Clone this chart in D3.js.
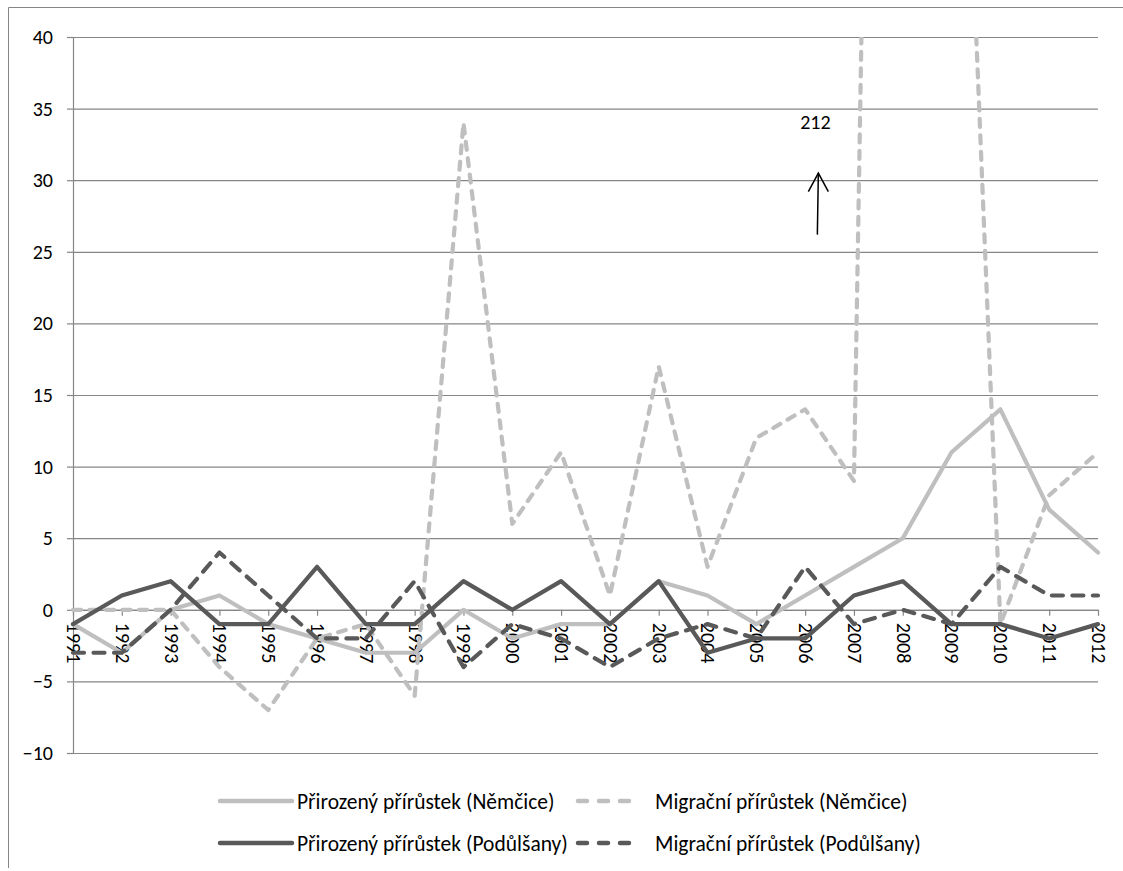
<!DOCTYPE html>
<html>
<head>
<meta charset="utf-8">
<script src="https://cdn.jsdelivr.net/npm/d3@7"></script>
<style>
  html, body { margin: 0; padding: 0; background: #fff; }
  svg { display: block; }
  text { font-family: "Carlito", "Lato", sans-serif; fill: #000; }
</style>
</head>
<body>
<svg id="chart" width="1123" height="871"></svg>
<script>
// ---- data ----
const years = ["1991","1992","1993","1994","1995","1996","1997","1998","1999","2000","2001",
               "2002","2003","2004","2005","2006","2007","2008","2009","2010","2011","2012"];
const prirozenyNemcice  = [-1,-3,0,1,-1,-2,-3,-3,0,-2,-1,-1,2,1,-1,1,3,5,11,14,7,4];
const migracniNemcice   = [0,0,0,-4,-7,-2,-1,-6,34,6,11,1,17,3,12,14,9,212,82,-1,8,11];
const prirozenyPodulsany = [-1,1,2,-1,-1,3,-1,-1,2,0,2,-1,2,-3,-2,-2,1,2,-1,-1,-2,-1];
const migracniPodulsany  = [-3,-3,0,4,1,-2,-2,2,-4,-1,-2,-4,-2,-1,-2,3,-1,0,-1,3,1,1];
const yTicks = [-10,-5,0,5,10,15,20,25,30,35,40];
const seriesNames = ["Přirozený přírůstek (Němčice)","Migrační přírůstek (Němčice)",
                     "Přirozený přírůstek (Podůlšany)","Migrační přírůstek (Podůlšany)"];
const annotationText = "212";

// ---- layout / style ----
const LIGHT = "#bfbfbf", DARK = "#595959", GRID = "#868686";
const svg = d3.select("#chart");
const mLeft = 73, mRight = 1098, mTop = 37, mBottom = 753;

const x = d3.scalePoint().domain(years).range([mLeft, mRight]);
const y = d3.scaleLinear().domain([-10, 40]).range([mBottom, mTop]);

// outer frame (cropped on right & bottom)
svg.append("line").attr("x1", 8.5).attr("x2", 8.5).attr("y1", 7.5).attr("y2", 868)
  .attr("stroke", GRID).attr("stroke-width", 1);
svg.append("line").attr("x1", 8.5).attr("x2", 1123).attr("y1", 7.5).attr("y2", 7.5)
  .attr("stroke", GRID).attr("stroke-width", 1);

// y axis with gridlines
const yAxis = d3.axisLeft(y).tickValues(yTicks).tickSize(6).tickPadding(13).tickFormat(d3.format("d"));
const gy = svg.append("g").attr("transform", `translate(${mLeft},0)`).call(yAxis);
gy.select(".domain").attr("stroke", GRID).attr("stroke-width", 1.2).attr("d", `M0.5,${y(-10)}V${y(40)}`);
gy.selectAll(".tick line").attr("stroke", GRID).attr("stroke-width", 1.2);
gy.selectAll(".tick text").style("font-size", "20px").attr("fill", "#000").attr("dx", "-1");
gy.selectAll(".tick").append("line")
  .attr("x1", 0).attr("x2", mRight - mLeft).attr("y1", 0).attr("y2", 0)
  .attr("stroke", GRID).attr("stroke-width", 1.2);

// x axis at y = 0
const xAxis = d3.axisBottom(x).tickSize(6).tickSizeOuter(0).tickPadding(0);
const gx = svg.append("g").attr("transform", `translate(0,${y(0)})`).call(xAxis);
gx.select(".domain").attr("stroke", GRID).attr("stroke-width", 1.2);
gx.selectAll(".tick line").attr("stroke", GRID).attr("stroke-width", 1.2);
gx.selectAll(".tick text")
  .style("font-size", "20px")
  .attr("fill", "#000")
  .attr("text-anchor", "start")
  .attr("transform", "translate(0,13) rotate(90)")
  .attr("x", 0).attr("y", 0).attr("dy", "0.33em");

// clip
svg.append("clipPath").attr("id", "plotclip").append("rect")
  .attr("x", mLeft - 10).attr("y", y(40)).attr("width", mRight - mLeft + 20).attr("height", y(-10) - y(40) + 20);

const lineGen = d3.line().x((d, i) => x(years[i])).y(d => y(d));
const plot = svg.append("g").attr("clip-path", "url(#plotclip)");

const series = [
  {values: prirozenyNemcice,   color: LIGHT, dash: null},
  {values: migracniNemcice,    color: LIGHT, dash: "8,8.5"},
  {values: prirozenyPodulsany, color: DARK,  dash: null},
  {values: migracniPodulsany,  color: DARK,  dash: "11,9.5"}
];
series.forEach(s => {
  plot.append("path").datum(s.values)
    .attr("d", lineGen)
    .attr("fill", "none")
    .attr("stroke", s.color)
    .attr("stroke-width", 4.2)
    .attr("stroke-linejoin", "round")
    .attr("stroke-linecap", "round")
    .attr("stroke-dasharray", s.dash);
});

// annotation (212 off-scale value)
const step = x.step();
const ax = x("2006") + step * 0.25;
svg.append("text").attr("x", ax - 2).attr("y", y(33.6))
  .attr("text-anchor", "middle").style("font-size", "20px").text(annotationText);
svg.append("line").attr("x1", ax).attr("y1", y(26.2)).attr("x2", ax + 1).attr("y2", y(30.5))
  .attr("stroke", "#000").attr("stroke-width", 1.5);
svg.append("path")
  .attr("d", `M${ax - 9},${y(29.2)}L${ax + 1},${y(30.5)}L${ax + 11},${y(29.2)}`)
  .attr("fill", "none").attr("stroke", "#000").attr("stroke-width", 1.5);

// legend
const legend = svg.append("g");
const legendItems = [
  {name: seriesNames[0], color: LIGHT, dash: null,   lx: 220, ly: 801},
  {name: seriesNames[1], color: LIGHT, dash: "9,12", lx: 578, ly: 801},
  {name: seriesNames[2], color: DARK,  dash: null,   lx: 220, ly: 843},
  {name: seriesNames[3], color: DARK,  dash: "9,12", lx: 578, ly: 843}
];
legendItems.forEach(it => {
  const len = it.dash ? 63 : 72;
  legend.append("line")
    .attr("x1", it.lx).attr("x2", it.lx + len).attr("y1", it.ly).attr("y2", it.ly)
    .attr("stroke", it.color).attr("stroke-width", 4.5)
    .attr("stroke-linecap", "round").attr("stroke-dasharray", it.dash);
  legend.append("text")
    .attr("x", it.lx + 77).attr("y", it.ly).attr("dy", "0.35em")
    .style("font-size", "21.5px").text(it.name);
});
</script>
</body>
</html>
